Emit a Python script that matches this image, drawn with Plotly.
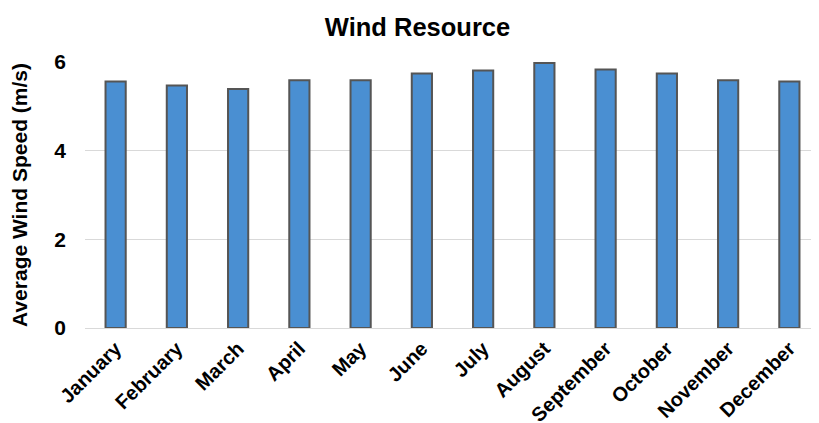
import plotly.graph_objects as go

months = ["January", "February", "March", "April", "May", "June", "July",
          "August", "September", "October", "November", "December"]
wind_speed = [5.56, 5.47, 5.39, 5.59, 5.59, 5.74, 5.81, 5.98, 5.83, 5.74, 5.59, 5.56]
y_ticks = [0, 2, 4, 6]

fig = go.Figure(go.Bar(
    x=months, y=wind_speed,
    marker=dict(color="#4a8fd2", line=dict(color="#555555", width=2)),
))

fig.update_layout(
    width=819, height=423,
    margin=dict(l=77, r=7, t=54, b=103, autoexpand=False),
    paper_bgcolor="white", plot_bgcolor="white",
    bargap=0.67,
    showlegend=False,
    font=dict(family="Liberation Sans, Arial, sans-serif", color="black"),
    title=dict(text="Wind Resource", x=0.5, xanchor="center",
               y=0.955, yanchor="middle",
               font=dict(size=25.5, color="black", weight="bold")),
    xaxis=dict(tickangle=-45, tickfont=dict(size=20, color="black", weight="bold"),
               showgrid=False, showline=True, linecolor="#d9d9d9", linewidth=1,
               ticks="", automargin=False),
    yaxis=dict(range=[0, 6], tickvals=y_ticks,
               tickfont=dict(size=21, color="black", weight="bold"),
               showgrid=True, gridcolor="#d9d9d9", gridwidth=1,
               zeroline=True, zerolinecolor="#d9d9d9", zerolinewidth=1,
               showline=False, ticks="", ticklabelstandoff=18, automargin=False,
               title=dict(text="Average Wind Speed (m/s)",
                          font=dict(size=21, color="black", weight="bold"), standoff=20)),
)

fig.write_html("out.html")
